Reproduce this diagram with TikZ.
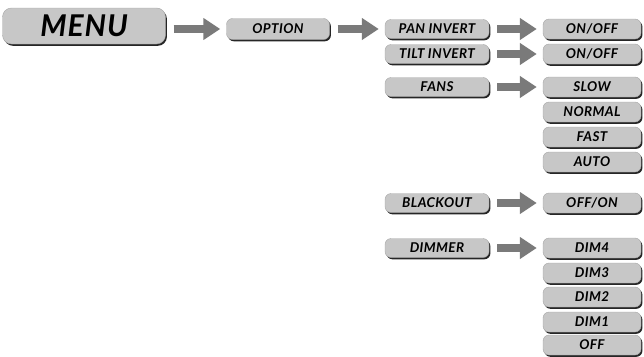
\documentclass[tikz,border=0pt]{standalone}
\usepackage{fontspec}
\setmainfont{Lato}[LetterSpace=3]
\usetikzlibrary{arrows.meta,shadows}
\begin{document}
\begin{tikzpicture}[x=1pt,y=-1pt,
    menubox/.style={draw=gray!70,line width=0.4pt,fill=black!22,rounded corners=6pt,inner sep=0pt,
        font=\bfseries\itshape\fontsize{13.5}{14}\selectfont,
        drop shadow={shadow xshift=1.4pt,shadow yshift=-1.8pt,fill=black!85,opacity=1}},
    leftbox/.style={menubox,minimum width=104pt,minimum height=19pt},
    rightbox/.style={menubox,minimum width=98pt,minimum height=20pt},
    bigarrow/.style={line width=8pt,draw=black!52,-{Triangle[width=21pt,length=17pt]},shorten <=8pt,shorten >=6pt}]
        \useasboundingbox (0,0) rectangle (644,356);
        \node[menubox,minimum width=163pt,minimum height=36pt,rounded corners=9pt,font=\bfseries\itshape\fontsize{30}{31}\selectfont] (menu) at (84,26) {MENU};
        \node[menubox,minimum width=103pt,minimum height=21pt] (option) at (278,29) {OPTION};
        \node[leftbox] (pan) at (437,29) {PAN INVERT};
        \node[leftbox] (tilt) at (437,54) {TILT INVERT};
        \node[leftbox] (fans) at (437,87) {FANS};
        \node[leftbox] (blackout) at (437,203) {BLACKOUT};
        \node[leftbox] (dimmer) at (437,248) {DIMMER};
        \node[rightbox] (panon) at (592,29) {ON/OFF};
        \node[rightbox] (tilton) at (592,54) {ON/OFF};
        \node[rightbox] (slow) at (592,87) {SLOW};
        \node[rightbox] (normal) at (592,112) {NORMAL};
        \node[rightbox] (fast) at (592,137) {FAST};
        \node[rightbox] (auto) at (592,162) {AUTO};
        \node[rightbox] (offon) at (592,203) {OFF/ON};
        \node[rightbox] (dimfour) at (592,248) {DIM4};
        \node[rightbox] (dimthree) at (592,273) {DIM3};
        \node[rightbox] (dimtwo) at (592,297) {DIM2};
        \node[rightbox] (dimone) at (592,322) {DIM1};
        \node[rightbox] (dimoff) at (592,345) {OFF};
        \draw[bigarrow] (menu.east |- option) -- (option.west);
        \draw[bigarrow] (option) -- (pan);
        \draw[bigarrow] (pan) -- (panon);
        \draw[bigarrow] (tilt) -- (tilton);
        \draw[bigarrow] (fans) -- (slow);
        \draw[bigarrow] (blackout) -- (offon);
        \draw[bigarrow] (dimmer) -- (dimfour);
    \end{tikzpicture}
\end{document}
